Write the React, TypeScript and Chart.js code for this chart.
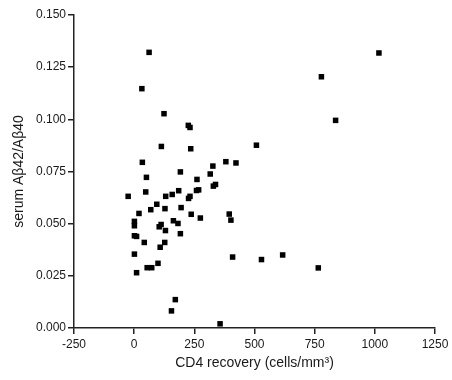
import React, { useEffect, useRef } from "react";
import { Chart, registerables } from "chart.js";

Chart.register(...registerables);

// CD4 recovery (cells/mm3)
const cd4Recovery = [
  62, 32, 124, 225, 232, 113, 235, 508, 34, 327, 381, 423, 192, 316, 51, 261,
  48, -25, 131, 158, 185, 226, 232, 259, 268, 329, 338, 20, 69, 94, 128, 195,
  237, 275, 395, 402, 1, 1, 112, 104, 163, 182, 130, 192, 1, 10, 42, 127, 108,
  1, 409, 529, 617, 54, 73, 99, 10, 171, 155, 357, 1017, 778, 837, 765,
];

// serum Abeta42/Abeta40 ratio
const abetaRatio = [
  0.1321, 0.1147, 0.1027, 0.0971, 0.0961, 0.087, 0.0859, 0.0876, 0.0794, 0.0776,
  0.0797, 0.0791, 0.0748, 0.0738, 0.0722, 0.0712, 0.0652, 0.0631, 0.0631, 0.064,
  0.0658, 0.0621, 0.0631, 0.0659, 0.0662, 0.068, 0.0688, 0.0549, 0.0567, 0.0593,
  0.0572, 0.0577, 0.0545, 0.0527, 0.0546, 0.0517, 0.0511, 0.049, 0.0496, 0.0485,
  0.0514, 0.0501, 0.0467, 0.0452, 0.0442, 0.0439, 0.041, 0.041, 0.0387, 0.0354,
  0.034, 0.0328, 0.035, 0.0289, 0.0289, 0.031, 0.0265, 0.0136, 0.0082, 0.002,
  0.1318, 0.1204, 0.0995, 0.0288,
];

const xTickMin = -250;
const xTickMax = 1250;
const xTickStep = 250;
const yTickMin = 0;
const yTickMax = 0.15;
const yTickStep = 0.025;

const FONT = "'Liberation Sans', Arial, sans-serif";
const AXIS_COLOR = "#222";
const TEXT_COLOR = "#1a1a1a";

export default function App() {
  const canvasRef = useRef<HTMLCanvasElement | null>(null);

  useEffect(() => {
    document.body.style.margin = "0";
    const canvas = canvasRef.current;
    if (!canvas) return;
    const points = cd4Recovery.map((x, i) => ({ x, y: abetaRatio[i] }));
    const chart = new Chart(canvas, {
      type: "scatter",
      data: {
        datasets: [
          {
            data: points,
            pointStyle: "rect",
            pointRadius: 3.9,
            pointHoverRadius: 3.9,
            backgroundColor: "#000",
            borderColor: "#000",
            borderWidth: 0,
          },
        ],
      },
      options: {
        animation: false,
        responsive: false,
        maintainAspectRatio: false,
        layout: { padding: { top: 15, right: 17, bottom: 0, left: 0 } },
        plugins: {
          legend: { display: false },
          tooltip: { enabled: false },
        },
        scales: {
          x: {
            type: "linear",
            min: xTickMin,
            max: xTickMax,
            afterFit: (scale: any) => {
              scale.height = 52;
            },
            ticks: {
              stepSize: xTickStep,
              padding: 3,
              color: TEXT_COLOR,
              font: { family: FONT, size: 12 },
              maxRotation: 0,
              callback: (v: any) => String(v),
            },
            grid: {
              drawOnChartArea: false,
              drawTicks: true,
              tickLength: 6,
              color: AXIS_COLOR,
              lineWidth: 1.5,
            },
            border: { color: AXIS_COLOR, width: 1.5 },
            title: {
              display: true,
              text: "CD4 recovery (cells/mm³)",
              color: TEXT_COLOR,
              font: { family: FONT, size: 14 },
              padding: { top: 0, bottom: 8 },
            },
          },
          y: {
            type: "linear",
            min: yTickMin,
            max: yTickMax,
            afterFit: (scale: any) => {
              scale.width = 74;
            },
            ticks: {
              stepSize: yTickStep,
              padding: 2,
              color: TEXT_COLOR,
              font: { family: FONT, size: 12 },
              callback: (v: any) => Number(v).toFixed(3),
            },
            grid: {
              drawOnChartArea: false,
              drawTicks: true,
              tickLength: 6,
              color: AXIS_COLOR,
              lineWidth: 1.5,
            },
            border: { color: AXIS_COLOR, width: 1.5 },
            title: {
              display: true,
              text: "serum Aβ42/Aβ40",
              color: TEXT_COLOR,
              font: { family: FONT, size: 14 },
              padding: { top: 11, bottom: 0 },
            },
          },
        },
      },
    });
    return () => chart.destroy();
  }, []);

  return (
    <div style={{ width: 452, height: 380 }}>
      <canvas ref={canvasRef} width={452} height={380} style={{ display: "block" }} />
    </div>
  );
}
